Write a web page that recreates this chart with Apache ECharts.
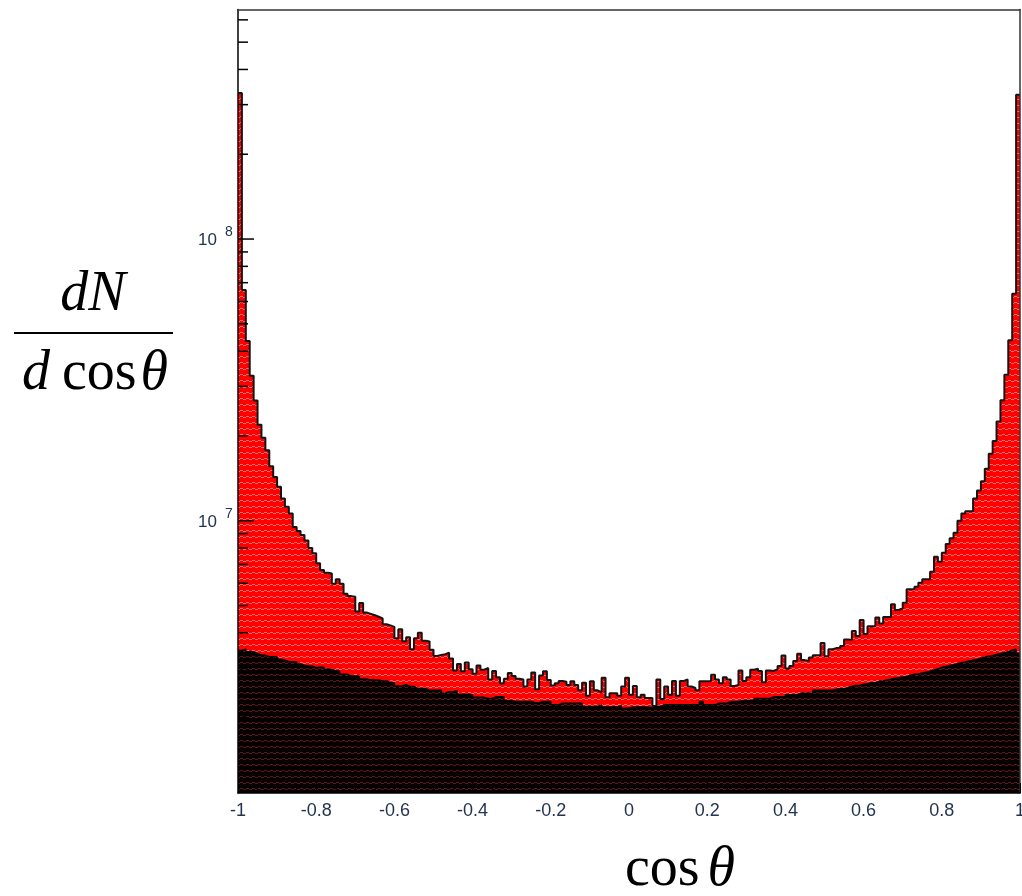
<!DOCTYPE html>
<html>
<head>
<meta charset="utf-8">
<script src="https://cdn.jsdelivr.net/npm/echarts@6/dist/echarts.min.js"></script>
<style>
html,body{margin:0;padding:0;background:#fff;}
#chart{width:1022px;height:896px;}
</style>
</head>
<body>
<div id="chart"></div>
<script>
// ---- data ----
const binCount = 200;
const xRange = [-1, 1];
const redCounts = [
 3.3e8,6.6e7,4.35e7,3.27e7,2.67e7,2.19e7,1.97e7,1.78e7,1.56e7,1.43e7,
 1.32e7,1.2e7,1.12e7,1.06e7,9.5e6,9.2e6,8.9e6,8.5e6,8.0e6,7.66e6,
 7.06e6,6.68e6,6.54e6,6.5e6,5.97e6,6.2e6,5.97e6,5.5e6,5.4e6,5.37e6,
 4.76e6,5.1e6,4.72e6,4.67e6,4.62e6,4.56e6,4.5e6,4.29e6,4.25e6,4.2e6,
 3.83e6,4.12e6,3.73e6,3.86e6,3.5e6,3.83e6,4.0e6,3.75e6,3.73e6,3.48e6,
 3.31e6,3.34e6,3.36e6,3.4e6,3.24e6,2.94e6,3.1e6,2.92e6,3.14e6,2.97e6,
 2.86e6,3.06e6,2.96e6,3.0e6,2.73e6,2.93e6,2.78e6,2.65e6,2.75e6,2.88e6,
 2.81e6,2.75e6,2.73e6,2.58e6,2.73e6,2.89e6,2.52e6,2.82e6,2.92e6,2.72e6,
 2.6e6,2.65e6,2.7e6,2.68e6,2.61e6,2.69e6,2.61e6,2.5e6,2.66e6,2.39e6,
 2.69e6,2.5e6,2.46e6,2.77e6,2.36e6,2.44e6,2.44e6,2.39e6,2.58e6,2.77e6,
 2.41e6,2.59e6,2.36e6,2.41e6,2.35e6,2.35e6,2.2e6,2.73e6,2.33e6,2.58e6,
 2.41e6,2.7e6,2.39e6,2.7e6,2.73e6,2.58e6,2.55e6,2.5e6,2.69e6,2.69e6,
 2.7e6,2.84e6,2.73e6,2.65e6,2.78e6,2.73e6,2.59e6,2.61e6,2.94e6,2.7e6,
 2.78e6,2.96e6,2.98e6,2.93e6,2.67e6,2.94e6,2.93e6,2.97e6,3.05e6,3.32e6,
 2.99e6,3.05e6,3.18e6,3.37e6,3.2e6,3.18e6,3.27e6,3.33e6,3.33e6,3.68e6,
 3.3e6,3.5e6,3.53e6,3.53e6,3.59e6,3.79e6,3.77e6,4.06e6,3.9e6,4.44e6,
 3.96e6,4.22e6,4.22e6,4.53e6,4.32e6,4.55e6,4.55e6,5.05e6,4.82e6,4.89e6,
 5.12e6,5.71e6,5.71e6,5.83e6,6.02e6,6.2e6,6.2e6,6.59e6,7.45e6,7.15e6,
 7.7e6,8.27e6,8.66e6,9.07e6,1.0e7,1.06e7,1.08e7,1.08e7,1.2e7,1.28e7,
 1.38e7,1.53e7,1.73e7,1.92e7,2.25e7,2.68e7,3.3e7,4.37e7,6.4e7,3.25e8
];
const blackCounts = [
 3.46e6,3.5e6,3.43e6,3.43e6,3.38e6,3.33e6,3.33e6,3.29e6,3.29e6,3.29e6,
 3.22e6,3.2e6,3.16e6,3.16e6,3.16e6,3.1e6,3.07e6,3.05e6,3.05e6,3.01e6,
 3.02e6,3.02e6,2.97e6,2.97e6,2.93e6,2.93e6,2.85e6,2.85e6,2.81e6,2.81e6,
 2.81e6,2.74e6,2.74e6,2.72e6,2.72e6,2.72e6,2.7e6,2.7e6,2.66e6,2.66e6,
 2.59e6,2.59e6,2.62e6,2.58e6,2.58e6,2.54e6,2.54e6,2.54e6,2.5e6,2.5e6,
 2.5e6,2.5e6,2.44e6,2.47e6,2.47e6,2.49e6,2.42e6,2.42e6,2.42e6,2.41e6,
 2.36e6,2.36e6,2.36e6,2.34e6,2.34e6,2.37e6,2.37e6,2.37e6,2.3e6,2.3e6,
 2.28e6,2.28e6,2.28e6,2.28e6,2.28e6,2.26e6,2.26e6,2.28e6,2.28e6,2.28e6,
 2.22e6,2.22e6,2.25e6,2.25e6,2.25e6,2.25e6,2.25e6,2.25e6,2.19e6,2.19e6,
 2.19e6,2.19e6,2.22e6,2.18e6,2.18e6,2.18e6,2.18e6,2.21e6,2.16e6,2.16e6,
 2.18e6,2.18e6,2.18e6,2.18e6,2.18e6,2.16e6,2.19e6,2.19e6,2.22e6,2.22e6,
 2.22e6,2.22e6,2.22e6,2.22e6,2.22e6,2.22e6,2.22e6,2.22e6,2.28e6,2.22e6,
 2.22e6,2.22e6,2.25e6,2.25e6,2.25e6,2.28e6,2.28e6,2.28e6,2.3e6,2.3e6,
 2.3e6,2.3e6,2.34e6,2.34e6,2.34e6,2.34e6,2.37e6,2.37e6,2.37e6,2.37e6,
 2.41e6,2.41e6,2.41e6,2.44e6,2.44e6,2.44e6,2.44e6,2.5e6,2.5e6,2.5e6,
 2.5e6,2.5e6,2.52e6,2.53e6,2.53e6,2.56e6,2.58e6,2.6e6,2.6e6,2.63e6,
 2.64e6,2.66e6,2.66e6,2.69e6,2.7e6,2.72e6,2.74e6,2.76e6,2.77e6,2.79e6,
 2.8e6,2.83e6,2.85e6,2.85e6,2.88e6,2.9e6,2.92e6,2.95e6,2.98e6,3.02e6,
 3.04e6,3.06e6,3.08e6,3.11e6,3.13e6,3.15e6,3.18e6,3.2e6,3.22e6,3.25e6,
 3.28e6,3.3e6,3.32e6,3.35e6,3.38e6,3.4e6,3.43e6,3.47e6,3.5e6,3.38e6
];
const yMajorTicks = [1e7, 1e8];
const yMinorTicks = [2e6,3e6,4e6,5e6,6e6,7e6,8e6,9e6,
                     2e7,3e7,4e7,5e7,6e7,7e7,8e7,9e7,
                     2e8,3e8,4e8,5e8,6e8];
const yRange = [1.08e6, 6.53e8];

// ---- build step data ----
const binWidth = (xRange[1] - xRange[0]) / binCount;
function stepData(counts) {
  const d = counts.map((v, i) => [xRange[0] + i * binWidth, v]);
  d.push([xRange[1], counts[counts.length - 1]]);
  return d;
}
function stripes(base, light) {
  const c = document.createElement('canvas');
  c.width = 6; c.height = 6;
  const g = c.getContext('2d');
  g.fillStyle = base; g.fillRect(0, 0, 6, 6);
  g.fillStyle = light;
  g.fillRect(0, 2, 3, 1); g.fillRect(3, 3, 3, 1);
  return c;
}
const redPattern = stripes('#ff0000', '#ff6a6a');
const blackPattern = stripes('#060000', '#5a1a1a');

const labelColor = '#243450';
const labelFont = 'Liberation Sans';
const mathFont = '56px "Liberation Serif"';
const mathItalic = 'italic 56px "Liberation Serif"';
const isPow10 = v => Math.abs(Math.log10(v) - Math.round(Math.log10(v))) < 1e-6;

const tickData = yMajorTicks.concat(yMinorTicks).map(v => [xRange[0], v]);

const chart = echarts.init(document.getElementById('chart'), null, {renderer: 'canvas'});
chart.setOption({
  animation: false,
  backgroundColor: '#fff',
  grid: {left: 238, right: 2, top: 9.5, bottom: 103, containLabel: false, outerBoundsMode: 'none'},
  xAxis: [{
    type: 'value', min: xRange[0], max: xRange[1], interval: 0.2, z: 5,
    axisLine: {show: true, onZero: false, lineStyle: {color: '#000', width: 1.5}},
    axisTick: {show: true, inside: true, length: 10, lineStyle: {color: '#000', width: 1}},
    minorTick: {show: true, splitNumber: 4, length: 5, lineStyle: {color: '#000', width: 1}},
    splitLine: {show: false}, minorSplitLine: {show: false},
    axisLabel: {
      margin: 9, color: labelColor, fontSize: 18, fontFamily: labelFont,
      showMinLabel: true, showMaxLabel: true, hideOverlap: false,
      formatter: v => String(Math.round(v * 10) / 10)
    }
  }, {
    type: 'value', position: 'top', min: xRange[0], max: xRange[1], z: 5,
    axisLine: {show: true, onZero: false, lineStyle: {color: '#333', width: 1.5}},
    axisTick: {show: false}, axisLabel: {show: false}, splitLine: {show: false}
  }],
  yAxis: [{
    type: 'log', logBase: 10, min: yRange[0], max: yRange[1], z: 5,
    axisLine: {show: true, onZero: false, lineStyle: {color: '#000', width: 1.5}},
    axisTick: {show: false}, splitLine: {show: false},
    axisLabel: {show: false}
  }, {
    type: 'value', position: 'right', min: 0, max: 1, z: 5,
    axisLine: {show: true, onZero: false, lineStyle: {color: '#333', width: 1.5}},
    axisTick: {show: false}, axisLabel: {show: false}, splitLine: {show: false}
  }],
  series: [{
    type: 'line', step: 'end', symbol: 'none', data: stepData(redCounts), z: 2,
    lineStyle: {color: '#141414', width: 2},
    areaStyle: {origin: 'start', opacity: 1, color: {image: redPattern, repeat: 'repeat'}}
  }, {
    type: 'line', step: 'end', symbol: 'none', data: stepData(blackCounts), z: 3,
    lineStyle: {color: '#000', width: 1.5},
    areaStyle: {origin: 'start', opacity: 1, color: {image: blackPattern, repeat: 'repeat'}}
  }, {
    // y-axis ticks and decade labels, positioned through the log scale
    type: 'custom', z: 10, silent: true, clip: false, data: tickData,
    renderItem: function (params, api) {
      const v = api.value(1);
      const p = api.coord([api.value(0), v]);
      const major = isPow10(v);
      const children = [{type: 'line', shape: {x1: p[0], y1: p[1], x2: p[0] + (major ? 16 : 10), y2: p[1]},
                         style: {stroke: '#000', lineWidth: 1.5}}];
      if (major) {
        children.push({type: 'text', x: p[0] - 21, y: p[1] + 1.5,
          style: {text: '10', align: 'right', verticalAlign: 'middle', fill: labelColor,
                  font: '17px "' + labelFont + '"'}});
        children.push({type: 'text', x: p[0] - 13, y: p[1] - 7,
          style: {text: String(Math.round(Math.log10(v))), align: 'left', verticalAlign: 'middle', fill: labelColor,
                  font: '14px "' + labelFont + '"'}});
      }
      return {type: 'group', children: children};
    }
  }],
  graphic: [
    {type: 'text', x: 93, y: 295, z: 20,
     style: {text: '{i|dN}', textAlign: 'center', textVerticalAlign: 'middle',
             rich: {i: {font: mathItalic, fill: '#000'}}}},
    {type: 'line', z: 20, shape: {x1: 14, y1: 333, x2: 173, y2: 333}, style: {stroke: '#000', lineWidth: 2}},
    {type: 'text', x: 95, y: 374, z: 20,
     style: {text: '{i|d}{r|cos}{i|θ}', textAlign: 'center', textVerticalAlign: 'middle',
             rich: {i: {font: mathItalic, fill: '#000'},
                    r: {font: mathFont, fill: '#000', padding: [0, 4, 0, 12]}}}},
    {type: 'text', x: 680, y: 870, z: 20,
     style: {text: '{r|cos}{i|θ}', textAlign: 'center', textVerticalAlign: 'middle',
             rich: {i: {font: mathItalic, fill: '#000'},
                    r: {font: mathFont, fill: '#000', padding: [0, 8, 0, 0]}}}}
  ]
});
</script>
</body>
</html>
